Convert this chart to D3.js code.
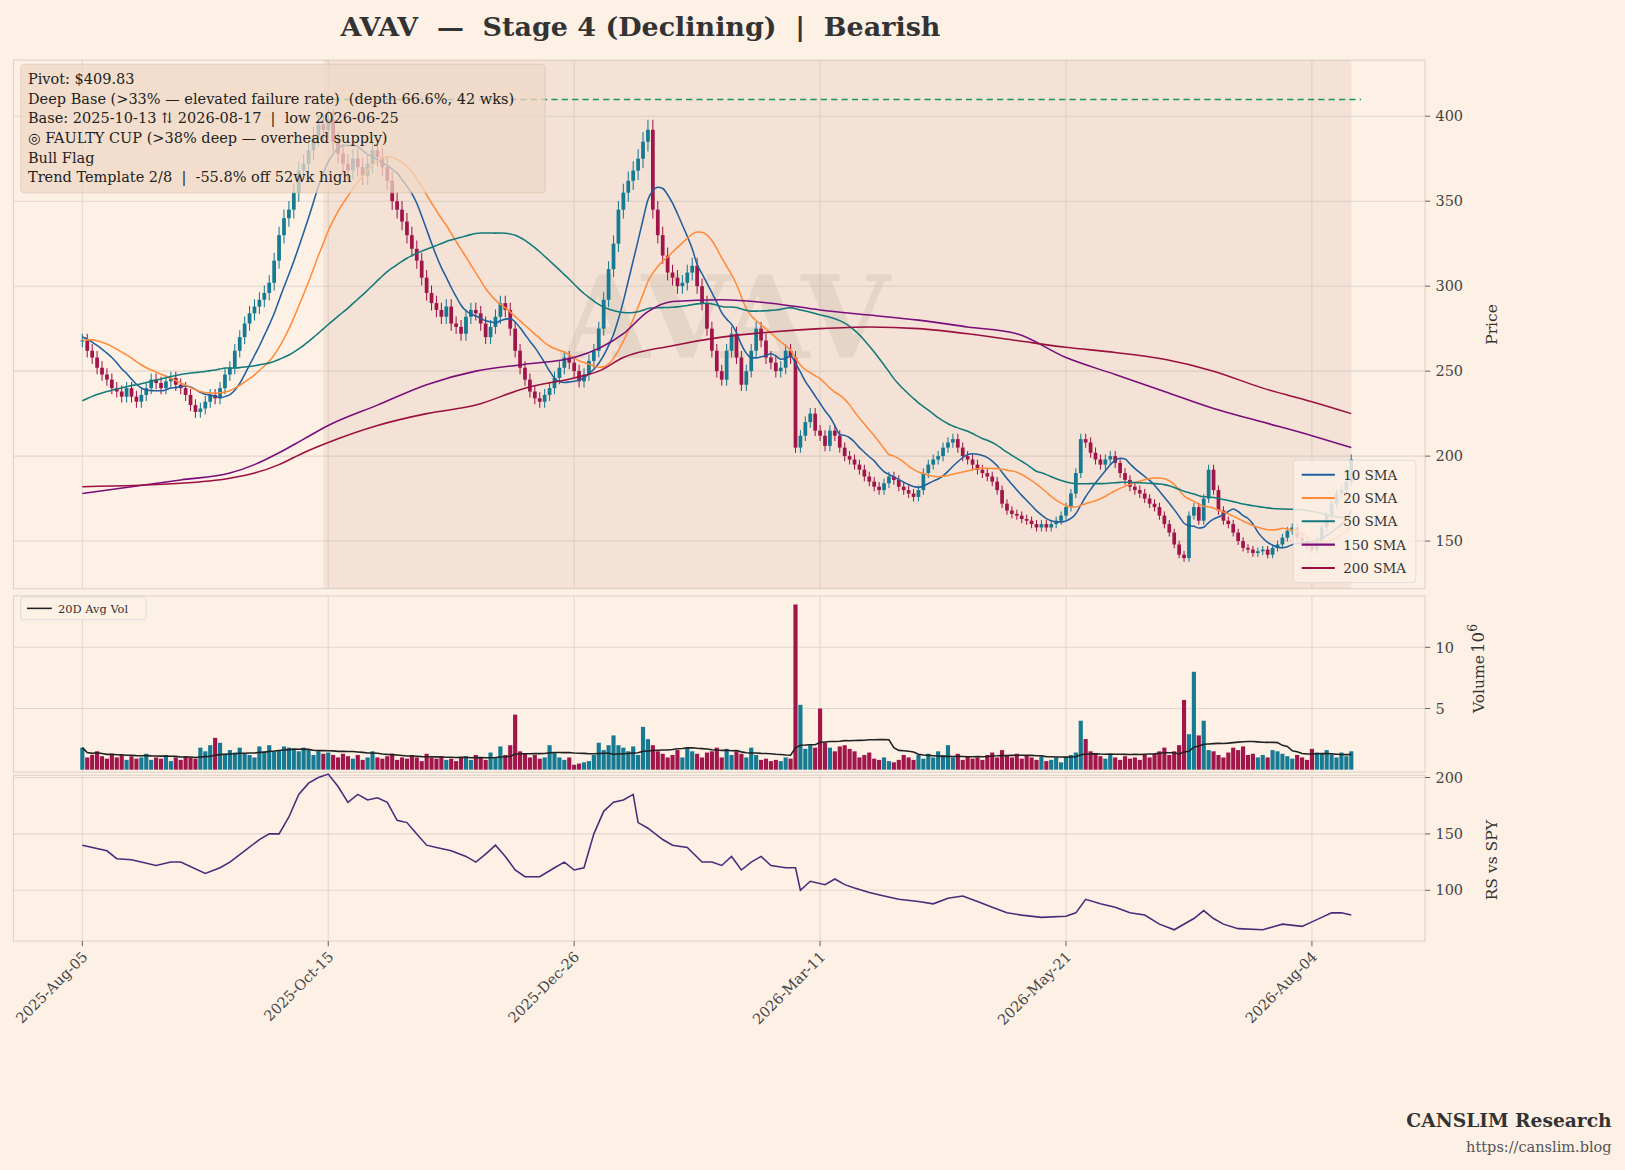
<!DOCTYPE html><html><head><meta charset="utf-8">
<script src="https://cdn.jsdelivr.net/npm/d3@7"></script>
<style>body{margin:0;background:#fdf0e5}text{font-family:"DejaVu Serif",serif;white-space:pre}</style></head><body>
<svg id="c" width="1625" height="1170"></svg>
<script>
const tickLabels=["2025-Aug-05","2025-Oct-15","2025-Dec-26","2026-Mar-11","2026-May-21","2026-Aug-04"];
const tickIdx=[0,50,100,150,200,250];
const preHistory=[195,197,199,200,202,201,203,204,205,203,206,207,205,208,206,209,210,208,211,210,212,213,211,214,213,212,215,214,216,
 255,258,260,262,265,266,268,270,272,271,273,274,276,272,270,268,266,269,270,268];
const closes=[268,262,258,252,248,245,240,238,235,240,
235,232,236,240,245,243,240,244,246,242,
240,236,230,226,228,232,236,234,240,248,
252,262,270,278,284,288,292,296,302,315,
330,340,345,355,368,372,380,388,395,392,
398,385,378,372,368,375,370,365,372,380,
376,370,362,350,345,338,330,322,315,305,
296,290,286,282,288,278,276,272,282,286,
284,278,270,276,282,290,286,275,262,252,
245,238,234,232,236,240,246,252,258,255,
250,244,248,256,262,275,292,310,325,345,
355,362,368,375,385,392,345,330,318,308,
305,300,302,308,312,300,290,275,262,250,
245,262,272,258,242,250,262,275,268,258,
255,250,252,262,258,205,212,220,225,215,
212,206,215,212,205,200,198,195,192,188,
185,182,180,184,188,186,182,180,178,176,
180,190,195,198,200,205,208,210,205,200,
198,195,192,190,188,185,180,172,168,166,
165,163,162,160,158,160,158,160,162,165,
170,178,190,210,208,202,198,195,198,200,
196,190,186,182,180,178,175,172,170,165,
160,155,148,142,140,165,170,162,175,192,
180,168,162,160,155,150,146,145,143,144,
145,142,146,148,152,156,158,152,150,147,
145,150,158,165,172,178,180,185,198];
const volumes=[1.8,1.0,1.2,1.5,1.1,0.9,1.3,1.0,1.2,0.8,
1.1,0.9,1.0,1.3,0.8,1.0,0.9,1.2,0.7,1.0,
0.8,1.1,1.0,0.9,1.8,1.5,2.0,2.6,2.2,1.3,
1.6,1.4,1.8,1.3,1.2,1.0,1.9,1.5,2.0,1.5,
1.6,1.9,1.8,1.7,1.5,1.8,1.6,1.2,1.5,1.3,
1.4,1.2,1.0,1.3,1.1,0.9,1.2,0.8,1.0,1.5,
1.0,0.9,1.1,1.3,0.8,1.0,0.9,1.2,1.0,0.7,
1.3,1.0,0.9,1.1,0.8,0.9,0.7,1.0,1.1,0.8,
1.2,1.0,0.8,1.4,1.0,1.9,1.2,2.0,4.5,1.5,
1.3,1.0,1.2,0.9,1.0,2.0,1.4,1.0,0.8,1.0,
0.4,0.5,0.6,0.7,1.2,2.2,1.6,2.0,2.8,2.0,
1.8,1.5,1.9,1.2,3.5,2.5,2.0,1.5,1.3,1.0,
1.2,1.6,1.0,1.8,1.5,1.3,1.0,1.4,1.5,1.8,
1.0,1.7,1.2,1.5,1.3,1.0,1.8,1.2,0.8,0.9,
0.7,0.8,0.7,1.0,0.9,13.5,5.3,1.7,2.0,1.8,
5.0,2.2,1.8,1.5,1.9,2.0,1.7,1.5,1.0,1.2,
1.4,0.9,0.8,1.0,0.7,0.6,0.8,1.2,1.0,0.8,
1.2,0.9,1.3,1.0,1.5,1.2,2.0,1.0,1.3,0.8,
1.1,0.9,1.0,0.8,1.2,1.4,1.0,1.6,1.2,1.0,
1.3,0.9,1.2,1.0,0.8,1.1,0.7,0.8,1.0,0.6,
1.0,1.2,1.4,4.0,2.5,1.5,1.3,1.1,0.9,1.2,
1.0,0.8,1.1,0.9,1.0,0.8,1.2,1.0,1.3,1.5,
1.8,1.2,1.5,2.0,5.7,2.9,8.0,2.8,4.0,1.6,
1.5,1.2,1.0,1.4,1.8,1.6,1.9,1.2,1.3,1.0,
1.2,1.0,1.6,1.5,1.3,1.1,0.9,1.2,1.0,0.8,
1.7,1.4,1.3,1.6,1.2,1.0,1.4,1.1,1.5];
const sma150Pts=[[0,178],[20,186],[30,190],[35,195],[40,202],[45,210],[50,218],[60,230],[70,242],[80,250],[90,254],[100,258],[110,272],[115,285],[120,291],[130,292],[140,290],[150,286],[160,283],[170,280],[180,276],[190,272],[200,258],[210,248],[220,238],[230,228],[240,220],[250,212],[258,205]];
const sma200Pts=[[0,182],[20,184],[30,187],[35,190],[40,195],[45,202],[50,208],[60,218],[70,225],[80,230],[90,240],[100,246],[105,250],[110,258],[120,265],[130,270],[140,273],[150,275],[160,276],[170,275],[180,272],[190,268],[200,264],[210,261],[220,257],[230,250],[240,240],[250,232],[258,225]];
const rsPts=[[0,140],[5,135],[7,128],[10,127],[15,122],[18,125],[20,125],[25,115],[28,120],[30,125],[33,135],[36,145],[38,150],[40,150],[42,165],[44,185],[46,195],[48,200],[50,203],[52,192],[54,178],[56,185],[58,180],[60,182],[62,178],[64,162],[66,160],[68,150],[70,140],[72,138],[75,135],[78,130],[80,125],[82,132],[84,140],[86,130],[88,118],[90,112],[93,112],[96,120],[98,125],[100,118],[102,120],[104,150],[106,170],[108,178],[110,180],[112,185],[113,160],[115,155],[118,145],[120,140],[123,138],[126,125],[128,125],[130,122],[132,130],[134,118],[136,125],[138,130],[140,122],[143,120],[145,120],[146,100],[148,108],[151,105],[153,110],[155,105],[157,102],[160,98],[163,95],[166,92],[170,90],[173,88],[176,93],[179,95],[182,90],[185,85],[188,80],[191,78],[195,76],[200,77],[202,80],[204,92],[207,88],[210,85],[213,80],[216,78],[219,70],[222,65],[226,75],[228,82],[230,75],[232,70],[235,66],[240,65],[244,70],[248,68],[250,72],[252,76],[254,80],[256,80],[258,78]];
const pivot=409.83, baseStartIdx=49;
const annLines=["Pivot: $409.83","Deep Base (>33% — elevated failure rate)  (depth 66.6%, 42 wks)","Base: 2025-10-13 ⇅ 2026-08-17  |  low 2026-06-25","◎ FAULTY CUP (>38% deep — overhead supply)","Bull Flag","Trend Template 2/8  |  -55.8% off 52wk high"];
const smaNames=["10 SMA","20 SMA","50 SMA","150 SMA","200 SMA"];
const smaColors=["#1f5fa0","#ff8c3a","#127a7a","#7a0d7a","#9b1040"];

const root=d3.select("#c");
root.append("rect").attr("width",1625).attr("height",1170).attr("fill","#fdf0e5");
const svg=root.append("g").attr("transform","scale(1.0364)");
const L=13,R=1375;
const x=d3.scaleLinear().domain([-14,273]).range([L,R]);
const yP=d3.scaleLinear().domain([122,433]).range([568,58]);
const yV=d3.scaleLinear().domain([-0.2,14.2]).range([745,575]);
const yR=d3.scaleLinear().domain([55,202]).range([908,748]);
const grid="#e2d6cc", ink="#444";
function panel(y0,y1,sc,ticks){
  svg.append("rect").attr("x",L).attr("y",y0).attr("width",R-L).attr("height",y1-y0).attr("fill","none").attr("stroke","#ddd0c6");
  tickIdx.forEach(i=>svg.append("line").attr("x1",x(i)).attr("x2",x(i)).attr("y1",y0).attr("y2",y1).attr("stroke",grid));
  ticks.forEach(t=>{svg.append("line").attr("x1",L).attr("x2",R).attr("y1",sc(t)).attr("y2",sc(t)).attr("stroke",grid);
   svg.append("line").attr("x1",R).attr("x2",R+5).attr("y1",sc(t)).attr("y2",sc(t)).attr("stroke","#666");
   svg.append("text").attr("x",R+10).attr("y",sc(t)+5).attr("font-size",14).attr("fill",ink).text(t);});
}
panel(58,568,yP,[150,200,250,300,350,400]);
panel(575,745,yV,[5,10]);
panel(748,908,yR,[100,150,200]);
svg.append("rect").attr("x",x(baseStartIdx)).attr("y",58).attr("width",x(258)-x(baseStartIdx)).attr("height",510).attr("fill","#c9a98f").attr("opacity",0.18);
svg.append("text").attr("x",700).attr("y",345).attr("text-anchor","middle").attr("font-size",110).attr("font-weight","bold").attr("fill","#b8a89a").attr("opacity",0.22).text("AVAV");
svg.append("line").attr("x1",x(baseStartIdx)).attr("x2",x(260)).attr("y1",yP(pivot)).attr("y2",yP(pivot)).attr("stroke","#1a9a50").attr("stroke-width",1.5).attr("stroke-dasharray","6,4");
const all=preHistory.concat(closes), off=preHistory.length;
function sma(n){return closes.map((c,i)=>{const j=i+off;const s=all.slice(Math.max(0,j-n+1),j+1);return [i,d3.mean(s)];});}
const line=d3.line().x(d=>x(d[0])).y(d=>yP(d[1])).curve(d3.curveMonotoneX);
const smas=[sma(10),sma(20),sma(50),sma150Pts,sma200Pts];
const opens=closes.map((c,i)=>i==0?preHistory[off-1]:closes[i-1]);
const up="#157a92", dn="#a0164a";
closes.forEach((c,i)=>{const o=opens[i],col=c>=o?up:dn,hi=Math.max(o,c)*1.015,lo=Math.min(o,c)*0.985;
 svg.append("line").attr("x1",x(i)).attr("x2",x(i)).attr("y1",yP(hi)).attr("y2",yP(lo)).attr("stroke",col).attr("stroke-width",1);
 svg.append("rect").attr("x",x(i)-1.8).attr("width",3.6).attr("y",yP(Math.max(o,c))).attr("height",Math.max(1,Math.abs(yP(o)-yP(c)))).attr("fill",col);
 svg.append("rect").attr("x",x(i)-2).attr("width",4).attr("y",yV(volumes[i])).attr("height",yV(0)-yV(volumes[i])).attr("fill",col);
});
smas.forEach((s,k)=>svg.append("path").attr("d",line(s)).attr("fill","none").attr("stroke",smaColors[k]).attr("stroke-width",1.5));
const av=volumes.map((v,i)=>[i,d3.mean(volumes.slice(Math.max(0,i-19),i+1))]);
svg.append("path").attr("d",d3.line().x(d=>x(d[0])).y(d=>yV(d[1]))(av)).attr("fill","none").attr("stroke","#222").attr("stroke-width",1.5);
svg.append("path").attr("d",d3.line().x(d=>x(d[0])).y(d=>yR(d[1]))(rsPts)).attr("fill","none").attr("stroke","#4b2a7a").attr("stroke-width",1.5);
svg.append("rect").attr("x",20).attr("y",62).attr("width",506).attr("height",124).attr("rx",4).attr("fill","#f0d8c6").attr("opacity",0.75).attr("stroke","#e0c4b0");
annLines.forEach((t,i)=>svg.append("text").attr("x",27).attr("y",81+i*19).attr("font-size",14).attr("fill","#222").text(t));
const lg=svg.append("g");
lg.append("rect").attr("x",1248).attr("y",444).attr("width",118).attr("height",118).attr("rx",3).attr("fill","#fdf0e5").attr("opacity",0.85).attr("stroke","#ddd");
smaNames.forEach((n,i)=>{const yy=458+i*22.5;lg.append("line").attr("x1",1256).attr("x2",1288).attr("y1",yy).attr("y2",yy).attr("stroke",smaColors[i]).attr("stroke-width",2);
 lg.append("text").attr("x",1296).attr("y",yy+5).attr("font-size",13).attr("fill","#333").text(n);});
svg.append("rect").attr("x",20).attr("y",576).attr("width",121).attr("height",22).attr("rx",3).attr("fill","#fdf0e5").attr("stroke","#ddd");
svg.append("line").attr("x1",26).attr("x2",50).attr("y1",587).attr("y2",587).attr("stroke","#222").attr("stroke-width",1.5);
svg.append("text").attr("x",56).attr("y",591).attr("font-size",11).attr("fill","#333").text("20D Avg Vol");
function vlab(t,xx,yy,fs){svg.append("text").attr("transform",`translate(${xx},${yy}) rotate(-90)`).attr("text-anchor","middle").attr("font-size",fs||15).attr("fill","#333").text(t);}
vlab("Price",1444,313);vlab("Volume",1432,660);vlab("RS vs SPY",1444,830);
svg.append("text").attr("transform","translate(1432,630) rotate(-90)").attr("font-size",16).attr("fill","#333").html('10<tspan dy="-7" font-size="12">6</tspan>');
tickIdx.forEach((i,k)=>{svg.append("line").attr("x1",x(i)).attr("x2",x(i)).attr("y1",908).attr("y2",913).attr("stroke","#666");
 svg.append("text").attr("transform",`translate(${x(i)+6},${924}) rotate(-45)`).attr("text-anchor","end").attr("font-size",14).attr("fill",ink).text(tickLabels[k]);});
svg.append("text").attr("x",618).attr("y",35).attr("text-anchor","middle").attr("font-size",26).attr("font-weight","bold").attr("fill","#333").text("AVAV  —  Stage 4 (Declining)  |  Bearish");
svg.append("text").attr("x",1555).attr("y",1087).attr("text-anchor","end").attr("font-size",18).attr("font-weight","bold").attr("fill","#333").text("CANSLIM Research");
svg.append("text").attr("x",1555).attr("y",1112).attr("text-anchor","end").attr("font-size",14).attr("fill","#555").text("https://canslim.blog");
</script></body></html>
